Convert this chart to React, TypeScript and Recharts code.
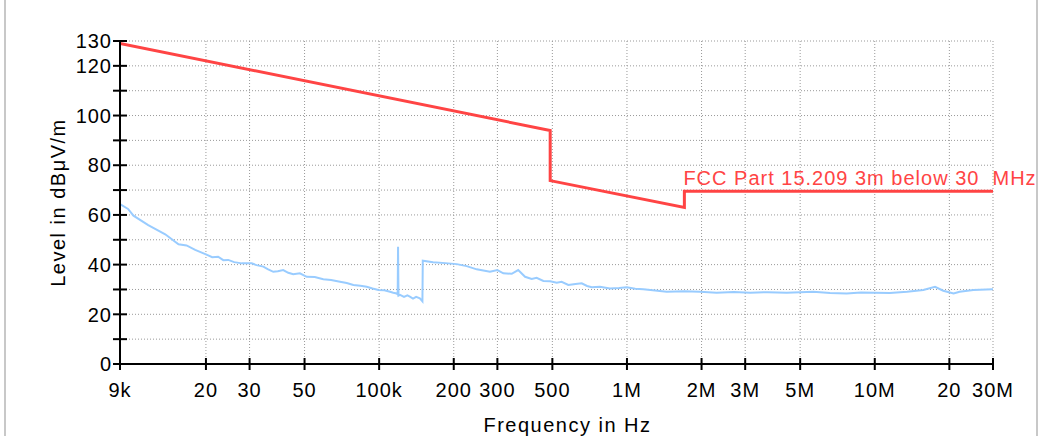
import { LineChart, Line, XAxis, YAxis, CartesianGrid, Label } from "recharts";

// frequency axis (Hz) and its labels
const xTicks = [9000, 20000, 30000, 50000, 100000, 200000, 300000, 500000, 1000000, 2000000, 3000000, 5000000, 10000000, 20000000, 30000000];
const xTickLabels = ["9k", "20", "30", "50", "100k", "200", "300", "500", "1M", "2M", "3M", "5M", "10M", "20", "30M"];

// level axis (dBµV/m)
const yTicks = [0, 10, 20, 30, 40, 50, 60, 70, 80, 90, 100, 110, 120, 130];
const yTickLabels = ["0", "", "20", "", "40", "", "60", "", "80", "", "100", "", "120", "130"];

// FCC Part 15.209 limit, 3 m
const limitFreq = [9000, 490000, 490000, 1705000, 1705000, 30000000];
const limitLevel = [129.0, 94.0, 73.8, 63.0, 69.5, 69.5];

// measured trace
const measFreq = [
    9000, 9700, 10200, 11700, 13700, 15500, 16700, 18100, 20000, 21200,
    22400, 23500, 24600, 26000, 27900, 30600, 32000, 34100, 35500, 37400,
    39000, 41000, 43000, 45000, 47900, 51000, 55000, 59500, 64000, 69500,
    74000, 78700, 84000, 89100, 94000, 99300, 105000, 110600, 114000, 117700,
    118800, 119200, 119700, 121400, 126000, 130000, 133000, 137000, 141000, 146000,
    149500, 150000, 165000, 185000, 205700, 225600, 247600, 280000, 300000, 317000,
    342700, 364000, 388000, 412600, 432000, 460000, 490000, 520600, 545000, 580000,
    620000, 657000, 690000, 721000, 778000, 854000, 930000, 998000, 1080000, 1164000,
    1300000, 1447000, 1700000, 1970000, 2300000, 2700000, 3140000, 3700000, 4410000, 5000000,
    5650000, 6600000, 7700000, 8800000, 9960000, 11500000, 13500000, 15700000, 17500000, 18900000,
    20800000, 22000000, 25000000, 30000000,
];
const measLevel = [
    64.4, 62.4, 59.7, 55.9, 52.2, 48.2, 47.7, 45.9, 44.1, 43.0,
    43.2, 41.8, 41.9, 41.0, 40.5, 40.5, 39.8, 39.2, 38.2, 37.1,
    37.3, 37.8, 36.7, 36.1, 36.5, 35.1, 35.0, 34.1, 33.8, 33.1,
    32.6, 31.8, 31.5, 31.1, 30.4, 29.8, 29.7, 29.1, 28.7, 28.4,
    28.0, 47.2, 27.5, 27.8, 27.0, 27.6, 27.1, 26.3, 27.0, 26.4,
    25.2, 41.6, 41.0, 40.6, 40.2, 39.4, 38.1, 37.1, 37.8, 36.5,
    36.3, 37.8, 35.1, 34.2, 34.7, 33.4, 33.3, 32.7, 33.1, 31.8,
    32.2, 32.5, 31.4, 30.9, 31.1, 30.4, 30.6, 30.9, 30.3, 30.1,
    29.6, 29.1, 29.3, 29.1, 28.7, 29.0, 28.7, 28.9, 28.7, 28.9,
    29.1, 28.6, 28.4, 28.8, 28.7, 28.6, 29.1, 29.8, 31.1, 29.5,
    28.4, 29.1, 29.8, 30.1,
];

const limitData = limitFreq.map((f, i) => ({ f, v: limitLevel[i] }));
const measData = measFreq.map((f, i) => ({ f, v: measLevel[i] }));

const FONT = "'Liberation Sans', Arial, sans-serif";

const XTick = (props: any) => {
    const { x, y, payload } = props;
    const label = xTickLabels[xTicks.indexOf(payload.value)];
    return (
        <g>
            <line x1={x} x2={x} y1={y - 6} y2={y + 6} stroke="#000" strokeWidth={2} />
            <text x={x} y={y + 33} textAnchor="middle" fontSize={20} letterSpacing={1} fontFamily={FONT} fill="#000">
                {label}
            </text>
        </g>
    );
};

const YTick = (props: any) => {
    const { x, y, payload } = props;
    const label = yTickLabels[yTicks.indexOf(payload.value)];
    return (
        <g>
            <line x1={x - 7} x2={x + 7} y1={y} y2={y} stroke="#000" strokeWidth={2} />
            <text x={x - 8} y={y} dy="0.36em" textAnchor="end" fontSize={20} letterSpacing={1} fontFamily={FONT} fill="#000">
                {label}
            </text>
        </g>
    );
};

const limitLabel = (props: any) => {
    if (props.index !== 4) return <g />;
    const x = props.x ?? props.viewBox?.x;
    const y = props.y ?? props.viewBox?.y;
    return (
        <text x={x - 1} y={y - 6} fill="#ff4444" fontSize={20} letterSpacing={1} fontFamily={FONT} style={{ whiteSpace: "pre" }}>
            FCC Part 15.209 3m below 30  MHz
        </text>
    );
};

const App = () => {
    return (
        <div style={{ position: "absolute", left: 0, top: 0, width: 1038, height: 436, background: "#fff" }}>
            <div style={{ position: "absolute", left: 4, top: 0, width: 1030, height: 436, borderLeft: "2px solid #c8c8c8", borderRight: "2px solid #c8c8c8" }} />
            <LineChart
                width={1038}
                height={436}
                margin={{ top: 41, right: 45, left: 0, bottom: 0 }}
            >
                <CartesianGrid stroke="#999" strokeDasharray="1 2" />
                <XAxis
                    type="number"
                    dataKey="f"
                    scale="log"
                    domain={[9000, 30000000]}
                    ticks={xTicks}
                    interval={0}
                    allowDataOverflow
                    height={72}
                    tickSize={0}
                    tickMargin={0}
                    tickLine={false}
                    tick={<XTick />}
                    axisLine={{ stroke: "#000", strokeWidth: 2 }}
                >
                    <Label value="Frequency in Hz" position="insideBottom" offset={4} dx={11} fontSize={20} letterSpacing={1.5} fontFamily={FONT} fill="#000" />
                </XAxis>
                <YAxis
                    type="number"
                    domain={[0, 130]}
                    ticks={yTicks}
                    interval={0}
                    width={120}
                    tickSize={0}
                    tickMargin={0}
                    tickLine={false}
                    tick={<YTick />}
                    axisLine={{ stroke: "#000", strokeWidth: 2 }}
                >
                    <Label value="Level in dBμV/m" position="center" angle={-90} dx={-2} fontSize={20} letterSpacing={1.5} fontFamily={FONT} fill="#000" />
                </YAxis>
                <Line data={measData} dataKey="v" type="linear" stroke="#99ccff" strokeWidth={2} dot={false} isAnimationActive={false} />
                <Line data={limitData} dataKey="v" type="linear" stroke="#ff4444" strokeWidth={3} dot={false} isAnimationActive={false} label={limitLabel} />
            </LineChart>
        </div>
    );
};

export default App;
